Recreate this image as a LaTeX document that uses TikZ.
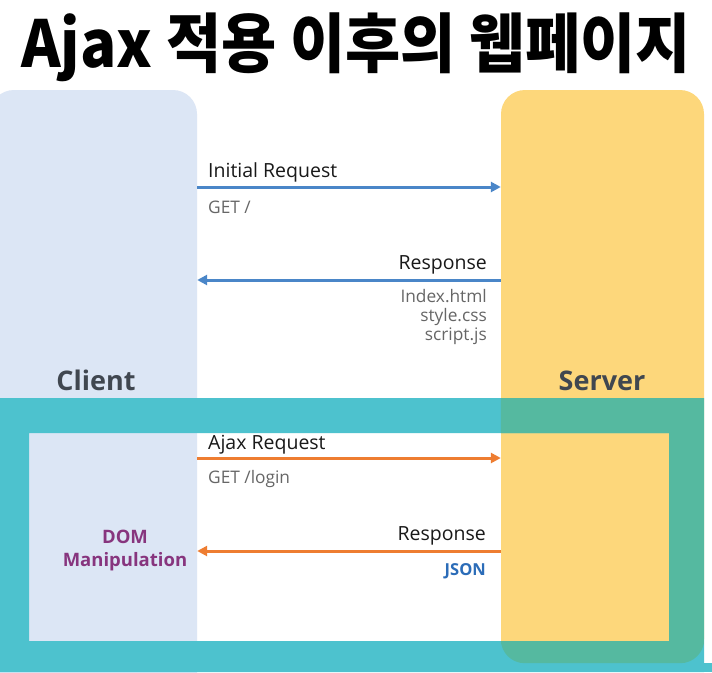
\documentclass[tikz,border=0pt]{standalone}
\usepackage{fontspec}
\setmainfont{Open Sans}
\newfontfamily\titleFont{Noto Sans CJK KR}
\usetikzlibrary{arrows.meta}
\definecolor{clientBlue}{HTML}{DCE6F5}
\definecolor{serverYellow}{HTML}{FDD77B}
\definecolor{frameTeal}{HTML}{4DC2CE}
\definecolor{frameGreen}{HTML}{55B9A0}
\definecolor{reqBlue}{HTML}{4A86C8}
\definecolor{ajaxOrange}{HTML}{EE7D31}
\definecolor{noteGray}{HTML}{666666}
\definecolor{labelGray}{HTML}{404750}
\definecolor{domPurple}{HTML}{87357E}
\definecolor{jsonBlue}{HTML}{2B6CB8}
\newcommand{\msgSize}{\fontsize{19.5}{23}\selectfont}
\newcommand{\noteSize}{\fontsize{17.3}{19}\selectfont}

\begin{document}
\begin{tikzpicture}[x=1pt,y=-1pt,
    panel/.style={rounded corners=24pt, inner sep=0pt},
    blueArrow/.style={reqBlue, line width=3pt, -{Triangle[length=10pt,width=10pt]}},
    orangeArrow/.style={ajaxOrange, line width=3pt, -{Triangle[length=10pt,width=10pt]}},
    msg/.style={font=\msgSize, text=black!90, inner sep=0pt},
    note/.style={font=\noteSize, text=noteGray, inner sep=0pt},
    sideLabel/.style={font=\fontsize{27}{30}\selectfont\bfseries, text=labelGray, inner sep=0pt}]
\useasboundingbox (0,0) rectangle (712,672);
\fill[white] (0,0) rectangle (712,672);
\clip (0,0) rectangle (712,672);
% Title
\node (title) [anchor=base, inner sep=0pt] at (356,67)
    {\scalebox{1}[1.08]{\titleFont\bfseries\fontsize{60}{64}\selectfont Ajax 적용 이후의 웹페이지}};
% Client and server panels
\node (client) [panel, fill=clientBlue, minimum width=207pt, minimum height=610pt] at (93.5,395) {};
\node (server) [panel, fill=serverYellow, minimum width=203pt, minimum height=573pt] at (602.5,376.5) {};
\node (clientLabel) [sideLabel, anchor=base] at (96,390) {Client};
\node (serverLabel) [sideLabel, anchor=base] at (602,390) {Server};
% Ajax frame
\fill[frameTeal, even odd rule] (0,398) rectangle (704,672) (29,433) rectangle (669,641);
\fill[frameTeal] (0,663) rectangle (712,672);
\begin{scope}
  \clip[rounded corners=24pt] (server.north west) rectangle (server.south east);
  \fill[frameGreen, even odd rule] (0,398) rectangle (704,672) (29,433) rectangle (669,641);
\end{scope}
% Arrow heights
\coordinate       (initialReq)    at (0,187);
\coordinate       (initialResp)   at (0,280);
\coordinate       (ajaxReq)       at (0,458);
\coordinate       (ajaxResp)      at (0,551);
% First page load
\draw[blueArrow] (client.east |- initialReq) -- (server.west |- initialReq);
\draw[blueArrow] (server.west |- initialResp) -- (client.east |- initialResp);
\node (initialReqText) [msg, anchor=base west] at (208,177) {Initial Request};
\node (getRoot) [note, anchor=base west] at (208,213) {GET /};
\node (initialRespText) [msg, anchor=base east] at (487,269) {Response};
\node (files) [note, anchor=north east, align=right] at (487,289)
  {Index.html\\ style.css\\ script.js};
% Ajax call
\draw[orangeArrow] (client.east |- ajaxReq) -- (server.west |- ajaxReq);
\draw[orangeArrow] (server.west |- ajaxResp) -- (client.east |- ajaxResp);
\node (ajaxReqText) [msg, anchor=base west] at (208,449) {Ajax Request};
\node (getLogin) [note, anchor=base west] at (208,483) {GET /login};
\node (ajaxRespText) [msg, anchor=base east] at (486,540) {Response};
\node (json) [font=\fontsize{16.5}{19}\selectfont\bfseries, text=jsonBlue, inner sep=0pt, anchor=base east] at (486,575) {JSON};
\node (dom) [font=\fontsize{18.5}{23}\selectfont\bfseries, text=domPurple, inner sep=0pt, align=center] at (125,551)
  {DOM\\ Manipulation};
\end{tikzpicture}
\end{document}
